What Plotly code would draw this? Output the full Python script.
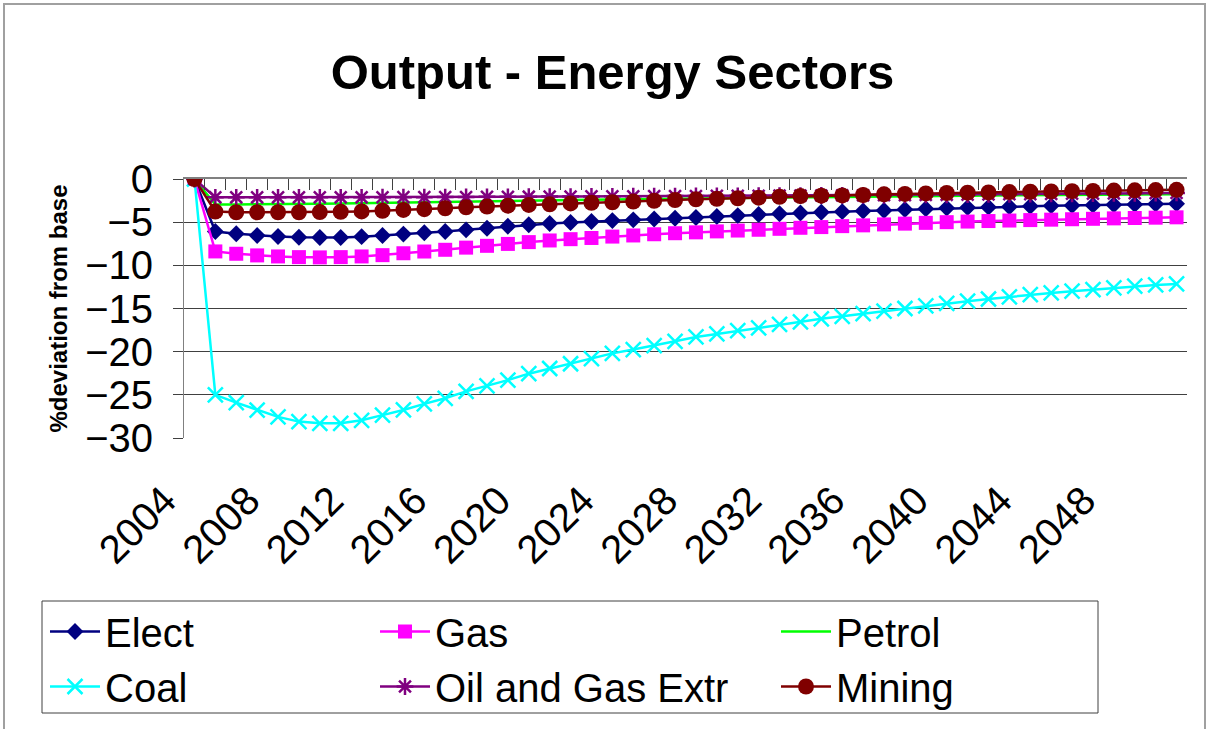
import plotly.graph_objects as go

TITLE = "Output - Energy Sectors"
FONT = "Arial, Liberation Sans, sans-serif"

years = list(range(2004, 2052))
tick_years = list(range(2004, 2052, 4))

elect = [0, -6.08, -6.35, -6.54, -6.66, -6.74, -6.78, -6.78, -6.68, -6.54, -6.38, -6.22,
         -6.08, -5.89, -5.7, -5.47, -5.3, -5.15, -5.03, -4.93, -4.82, -4.73, -4.63, -4.54,
         -4.46, -4.35, -4.24, -4.12, -4.02, -3.94, -3.86, -3.78, -3.71, -3.64, -3.53, -3.44,
         -3.37, -3.31, -3.26, -3.21, -3.16, -3.11, -3.07, -3.03, -2.98, -2.94, -2.9, -2.86]
gas = [0, -8.39, -8.66, -8.85, -8.97, -9.05, -9.08, -9.05, -8.97, -8.82, -8.6, -8.4,
       -8.2, -7.95, -7.74, -7.52, -7.31, -7.12, -6.97, -6.83, -6.67, -6.54, -6.4, -6.28,
       -6.18, -6.07, -5.97, -5.88, -5.77, -5.65, -5.57, -5.46, -5.37, -5.26, -5.17, -5.08,
       -5.0, -4.93, -4.87, -4.81, -4.76, -4.71, -4.66, -4.61, -4.56, -4.52, -4.48, -4.44]
petrol = [0, -2.95, -2.95, -2.95, -2.93, -2.9, -2.88, -2.85, -2.82, -2.79, -2.75, -2.72,
          -2.68, -2.64, -2.6, -2.56, -2.52, -2.48, -2.44, -2.41, -2.37, -2.34, -2.3, -2.27,
          -2.24, -2.21, -2.18, -2.15, -2.12, -2.1, -2.07, -2.05, -2.03, -2.01, -1.99, -1.97,
          -1.95, -1.93, -1.91, -1.9, -1.88, -1.86, -1.85, -1.83, -1.82, -1.8, -1.79, -1.78]
coal = [0, -25.0, -25.9, -26.76, -27.55, -28.1, -28.3, -28.3, -27.95, -27.35, -26.75, -26.05,
        -25.4, -24.6, -23.95, -23.3, -22.55, -21.95, -21.4, -20.8, -20.2, -19.75, -19.3, -18.8,
        -18.3, -17.95, -17.55, -17.25, -16.85, -16.55, -16.2, -15.9, -15.6, -15.3, -15.0, -14.7,
        -14.4, -14.15, -13.9, -13.65, -13.4, -13.2, -13.0, -12.8, -12.6, -12.4, -12.27, -12.15]
oil_gas_extr = [0, -2.12, -2.12, -2.12, -2.12, -2.12, -2.12, -2.12, -2.12, -2.11, -2.1, -2.1,
                -2.09, -2.08, -2.07, -2.06, -2.05, -2.04, -2.03, -2.02, -2.01, -2.0, -1.99, -1.98,
                -1.97, -1.96, -1.95, -1.94, -1.93, -1.92, -1.91, -1.9, -1.89, -1.88, -1.87, -1.85,
                -1.83, -1.81, -1.79, -1.77, -1.75, -1.73, -1.71, -1.69, -1.67, -1.65, -1.63, -1.61]
mining = [0, -3.77, -3.85, -3.85, -3.85, -3.85, -3.83, -3.79, -3.75, -3.68, -3.58, -3.49,
          -3.39, -3.28, -3.19, -3.09, -3.0, -2.93, -2.83, -2.75, -2.69, -2.62, -2.52, -2.43,
          -2.35, -2.3, -2.23, -2.16, -2.06, -1.98, -1.93, -1.9, -1.85, -1.78, -1.73, -1.67,
          -1.62, -1.58, -1.55, -1.51, -1.48, -1.44, -1.41, -1.38, -1.34, -1.31, -1.28, -1.25]

# name, values, colour, marker symbol, marker size, legend column
series = [
    ("Elect", elect, "#000080", "diamond", 13, "legend"),
    ("Gas", gas, "#FF00FF", "square", 14, "legend2"),
    ("Petrol", petrol, "#00FF00", None, 0, "legend3"),
    ("Coal", coal, "#00FFFF", "x-thin", 15, "legend"),
    ("Oil and Gas Extr", oil_gas_extr, "#800080", "asterisk", 14, "legend2"),
    ("Mining", mining, "#800000", "circle", 16, "legend3"),
]

fig = go.Figure()
for name, vals, color, symbol, size, leg in series:
    if symbol is None:
        fig.add_trace(go.Scatter(x=years, y=vals, name=name, mode="lines",
                                 line=dict(color=color, width=2.5), legend=leg))
    else:
        fig.add_trace(go.Scatter(
            x=years, y=vals, name=name, mode="lines+markers",
            line=dict(color=color, width=2.5), legend=leg,
            marker=dict(symbol=symbol, size=size, color=color,
                        line=dict(color=color, width=2.5 if symbol in ("x-thin", "asterisk") else 0)),
        ))

# top axis line (crosses at 0) with category tick marks
fig.add_trace(go.Scatter(x=years, y=[None] * len(years), xaxis="x2", showlegend=False, hoverinfo="skip"))

# pixel -> paper helpers for the plot box 184..1187 x 179..438
def px(x):
    return (x - 184) / 1003


def py(y):
    return (438 - y) / 259


legend_font = dict(family=FONT, size=40, color="black")
leg_common = dict(orientation="v", yanchor="top", xanchor="left", y=py(599),
                  bgcolor="rgba(0,0,0,0)", borderwidth=0, font=legend_font,
                  itemwidth=50, tracegroupgap=0)

fig.update_layout(
    width=1208, height=729,
    paper_bgcolor="white", plot_bgcolor="white",
    margin=dict(l=184, r=21, t=179, b=291, autoexpand=False),
    font=dict(family=FONT, color="black"),
    title=dict(text="<b>" + TITLE + "</b>", x=0.507, xanchor="center", y=1 - 72 / 729, yanchor="middle",
               font=dict(family=FONT, size=49, color="black")),
    xaxis=dict(range=[2003.5, 2051.5], tickmode="array", tickvals=tick_years,
               ticktext=[str(y) for y in tick_years], tickangle=-45,
               tickfont=dict(family=FONT, size=40, color="black"), ticks="",
               showline=False, showgrid=False, zeroline=False, ticklabelstandoff=30,
               ticklabelshift=-30, automargin=False),
    xaxis2=dict(range=[2003.5, 2051.5], overlaying="x", side="top", anchor="y",
                tick0=2003.5, dtick=1, ticks="inside", ticklen=11, tickcolor="#404040",
                tickwidth=1, showticklabels=False, showline=True, linecolor="#808080",
                linewidth=2, showgrid=False, zeroline=False, automargin=False),
    yaxis=dict(range=[-30, 0], dtick=5, tickfont=dict(family=FONT, size=40, color="black"),
               ticks="outside", ticklen=10, tickcolor="#404040", showline=True,
               linecolor="#808080", linewidth=1, showgrid=True, gridcolor="#404040",
               gridwidth=1, zeroline=False, ticklabelstandoff=12, automargin=False,
               title=dict(text="<b>%deviation from base</b>", standoff=10,
                          font=dict(family=FONT, size=24, color="black"))),
    legend=dict(x=px(45), **leg_common),
    legend2=dict(x=px(375), **leg_common),
    legend3=dict(x=px(776), **leg_common),
    shapes=[
        dict(type="rect", xref="paper", yref="paper", x0=px(42), x1=px(1098), y0=py(713), y1=py(601),
             line=dict(color="#404040", width=1), fillcolor="rgba(0,0,0,0)", layer="above"),
        dict(type="rect", xref="paper", yref="paper", x0=px(4), x1=px(1205), y0=py(760), y1=py(4),
             line=dict(color="#A0A0A0", width=2), fillcolor="rgba(0,0,0,0)", layer="above"),
    ],
)

# page body has a default 8px margin; drop it so the figure sits at the window origin
fig.write_html("out.html", config={"displayModeBar": False},
               post_script="document.body.style.margin = '0';")
